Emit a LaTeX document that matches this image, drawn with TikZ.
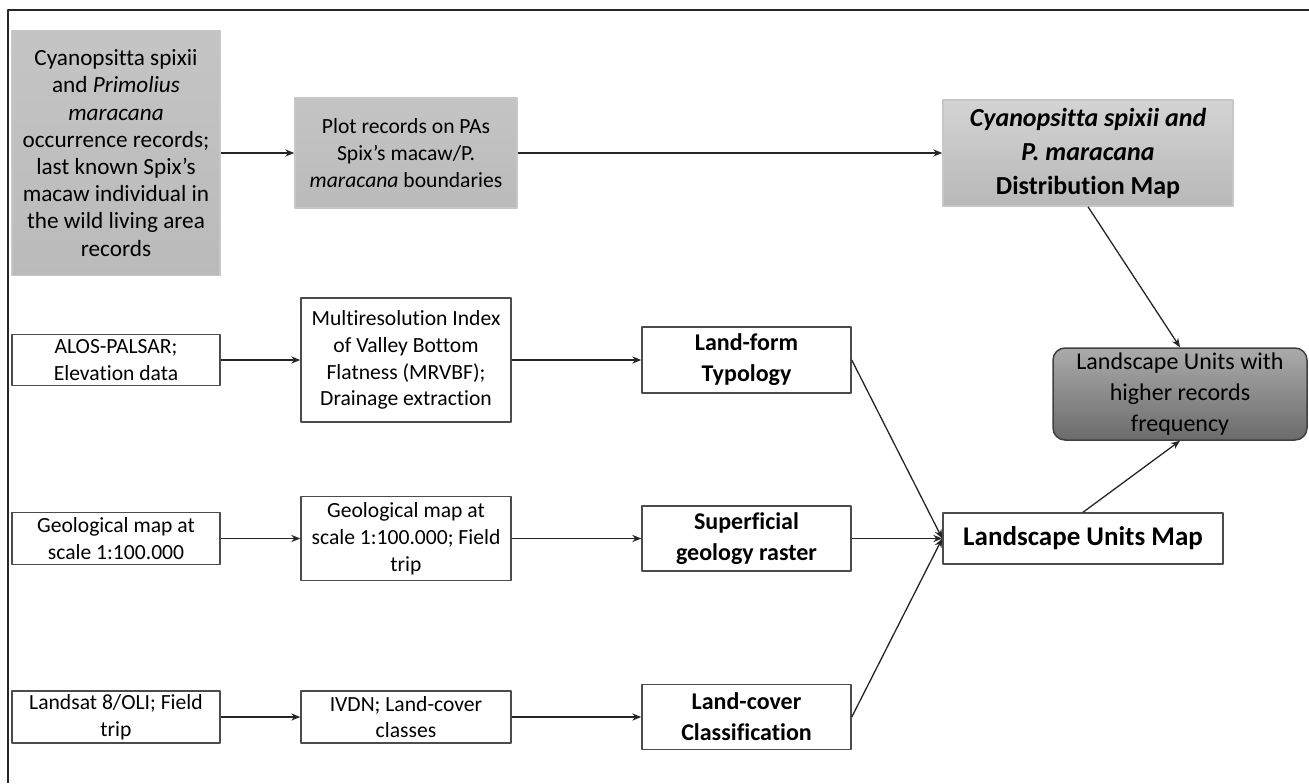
\documentclass[tikz,border=0pt]{standalone}
\usepackage{fontspec}
\setmainfont{Carlito}[Ligatures={TeX,NoCommon}]
\usetikzlibrary{arrows.meta}

\begin{document}
\begin{tikzpicture}[x=0.5pt,y=-0.5pt,line join=round,>={Stealth[length=4.5pt,width=3.6pt]},
	box/.style={draw=black!70,line width=0.75pt,fill=white,align=center,inner sep=1pt,font=\fontsize{10.8}{13.4}\selectfont},
	graybox/.style={box,draw=black!22,top color=black!23,bottom color=black!27},
	resbox/.style={box,font=\bfseries\fontsize{12}{15.6}\selectfont},
	link/.style={->,line width=0.65pt,draw=black!85}]
		\useasboundingbox (0,0) rectangle (1309,783);
		\draw[line width=1.1pt,black!85] (1309,10)--(8,10)--(8,783);
		% species records
		\node[graybox,minimum width=104pt,minimum height=122.5pt,font=\fontsize{11.6}{13.6}\selectfont] (occ) at (116,153) {Cyanopsitta spixii\\ and \textit{Primolius}\\ \textit{maracana}\\ occurrence records;\\ last known Spix's\\ macaw individual in\\ the wild living area\\ records};
		\node[graybox,minimum width=111pt,minimum height=55pt] (plot) at (406,153) {Plot records on PAs\\ Spix's macaw/P.\\ \textit{maracana} boundaries};
		\node[graybox,top color=black!17,bottom color=black!28,minimum width=145pt,minimum height=53pt,font=\bfseries\fontsize{13}{17}\selectfont] (distmap) at (1088,153) {\textit{Cyanopsitta spixii and}\\ \textit{P. maracana}\\ Distribution Map};
		\node[box,rounded corners=6pt,draw=black!75,top color=black!33,bottom color=black!58,minimum width=127pt,minimum height=46pt,font=\fontsize{12}{15.5}\selectfont] (higher) at (1180,394) {Landscape Units with\\ higher records\\ frequency};
		% landscape layers
		\node[box,minimum width=104pt,minimum height=25.5pt] (alos) at (116,360) {ALOS-PALSAR;\\ Elevation data};
		\node[box,minimum width=105pt,minimum height=62pt] (mrvbf) at (406,360) {Multiresolution Index\\ of Valley Bottom\\ Flatness (MRVBF);\\ Drainage extraction};
		\node[resbox,minimum width=104.5pt,minimum height=33pt] (landform) at (746.5,360) {Land-form\\ Typology};
		\node[box,minimum width=104pt,minimum height=26pt] (geo) at (116,538.5) {Geological map at\\ scale 1:100.000};
		\node[box,minimum width=105pt,minimum height=42pt] (geotrip) at (406,538.5) {Geological map at\\ scale 1:100.000; Field\\ trip};
		\node[resbox,minimum width=104.5pt,minimum height=32.5pt] (superf) at (746.5,538.5) {Superficial\\ geology raster};
		\node[box,minimum width=104pt,minimum height=26pt] (landsat) at (116,717) {Landsat 8/OLI; Field\\ trip};
		\node[box,minimum width=105pt,minimum height=26pt] (ivdn) at (406,717) {IVDN; Land-cover\\ classes};
		\node[resbox,minimum width=104.5pt,minimum height=32.5pt] (landcover) at (746.5,717) {Land-cover\\ Classification};
		\node[box,minimum width=140pt,minimum height=25.5pt,font=\bfseries\fontsize{13.5}{16}\selectfont] (lumap) at (1083,538.5) {Landscape Units Map};
		% connectors
		\draw[link] (occ.east)--(plot.west);
		\draw[link] (plot.east)--(distmap.west);
		\draw[link] (alos)--(mrvbf);
		\draw[link] (mrvbf)--(landform);
		\draw[link] (geo)--(geotrip);
		\draw[link] (geotrip)--(superf);
		\draw[link] (landsat)--(ivdn);
		\draw[link] (ivdn)--(landcover);
		\draw[link] (landform.east)--(lumap.west);
		\draw[link] (superf.east)--(lumap.west);
		\draw[link] (landcover.east)--(lumap.west);
		\draw[link] (distmap.south)--(higher.north);
		\draw[link] (lumap.north)--(higher.south);
	\end{tikzpicture}
\end{document}
